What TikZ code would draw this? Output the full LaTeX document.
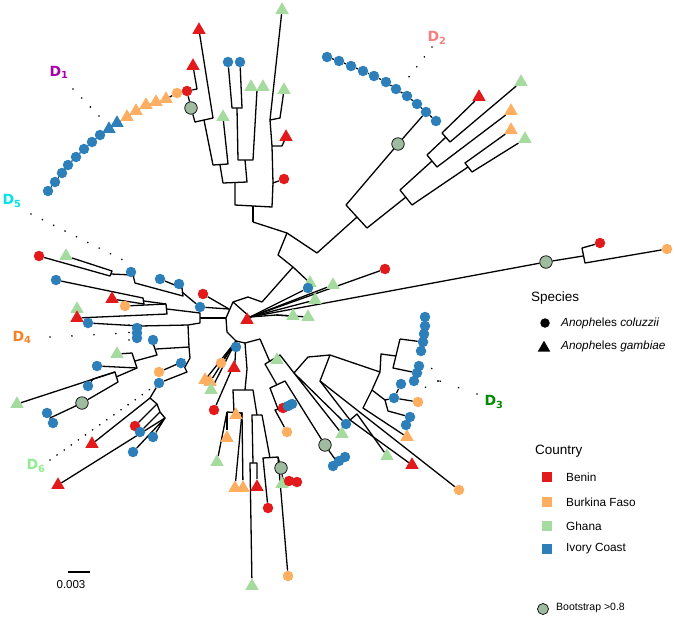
\documentclass[tikz,border=0pt]{standalone}
\usepackage{fontspec}
\setmainfont{Liberation Sans}
\newfontfamily\labfont{DejaVu Sans}
\usetikzlibrary{shapes.geometric,backgrounds}

\definecolor{benin}{RGB}{227,26,28}
\definecolor{burkina}{RGB}{253,174,97}
\definecolor{ghana}{RGB}{166,219,160}
\definecolor{ivory}{RGB}{44,127,184}
\definecolor{bootfill}{RGB}{160,188,160}
\definecolor{dA}{RGB}{170,0,170}
\definecolor{dB}{RGB}{244,128,128}
\definecolor{dC}{RGB}{0,140,0}
\definecolor{dD}{RGB}{247,129,35}
\definecolor{dE}{RGB}{0,228,232}
\definecolor{dF}{RGB}{144,238,144}

\tikzset{
  branch/.style={line width=1.3pt, line join=round},
  tipdot/.style={circle, inner sep=0pt, minimum size=10.5pt},
  tiptri/.style={regular polygon, regular polygon sides=3, inner sep=0pt, minimum size=15.5pt},
  bedot/.style={tipdot, fill=benin},
  bfdot/.style={tipdot, fill=burkina},
  ivdot/.style={tipdot, fill=ivory},
  betri/.style={tiptri, fill=benin},
  bftri/.style={tiptri, fill=burkina},
  ghtri/.style={tiptri, fill=ghana},
  ivtri/.style={tiptri, fill=ivory},
  boot/.style={circle, draw=black, line width=.7pt, fill=bootfill, inner sep=0pt, minimum size=12.5pt},
  leader/.style={line width=1.8pt, line cap=round, dash pattern=on 0pt off #1},
  dlab/.style={font=\labfont\bfseries\fontsize{14}{16}\selectfont, inner sep=0pt},
  legtext/.style={anchor=west, inner sep=0pt, font=\fontsize{11.8}{13}\selectfont},
  leghead/.style={anchor=west, inner sep=0pt, font=\fontsize{13.5}{15}\selectfont},
  legbox/.style={inner sep=0pt, minimum size=9.5pt},
}

\begin{document}
\begin{tikzpicture}[x=1pt,y=-1pt]
\useasboundingbox (0,0) rectangle (675,619);

% top clade
\node[betri] (ta1) at (199,30) {};
\node[bedot] (ta2) at (187,91) {};
\node[betri] (ta3) at (193,66) {};
\node[boot] (bs1) at (191,108) {};
\node[ghtri] (ta4) at (223,117) {};
\node[ivdot] (ta5) at (228,62) {};
\node[ivdot] (ta6) at (240,62) {};
\node[ghtri] (ta7) at (251,87) {};
\node[ghtri] (ta8) at (263,87) {};
\node[ghtri] (tb1) at (282,10) {};
\node[ghtri] (tb2) at (284,90) {};
\node[betri] (tb3) at (286,137) {};
\node[bedot] (tb4) at (284,179) {};

% D1 chain
\node[bfdot] (c1) at (177,93) {};
\node[bftri] (c2) at (166,99) {};
\node[bftri] (c3) at (156,102) {};
\node[bftri] (c4) at (146,105) {};
\node[bftri] (c5) at (136,111) {};
\node[bftri] (c6) at (127,117) {};
\node[ivtri] (c7) at (117,123) {};
\node[ivtri] (c8) at (109,129) {};
\node[ivdot] (c9) at (100,135) {};
\node[ivdot] (c10) at (92,142) {};
\node[ivdot] (c11) at (84,149) {};
\node[ivdot] (c12) at (76,157) {};
\node[ivdot] (c13) at (68,165) {};
\node[ivdot] (c14) at (62,173) {};
\node[ivdot] (c15) at (55,182) {};
\node[ivdot] (c16) at (48,191) {};

% D2 chain and its sister
\node[ivdot] (e1) at (327,57) {};
\node[ivdot] (e2) at (339,61) {};
\node[ivdot] (e3) at (351,66) {};
\node[ivdot] (e4) at (363,71) {};
\node[ivdot] (e5) at (374,76) {};
\node[ivdot] (e6) at (386,82) {};
\node[ivdot] (e7) at (396,89) {};
\node[ivdot] (e8) at (407,96) {};
\node[ivdot] (e9) at (417,104) {};
\node[ivdot] (e10) at (426,112) {};
\node[ivdot] (e11) at (436,121) {};
\node[boot] (bs2) at (398,144) {};
\node[betri] (f1) at (479,97) {};
\node[ghtri] (f2) at (521,82) {};
\node[bftri] (f3) at (511,111) {};
\node[bftri] (f4) at (511,130) {};
\node[ghtri] (f5) at (525,139) {};

% long branch
\node[boot] (bs3) at (546,262) {};
\node[bedot] (g1) at (600,243) {};
\node[bfdot] (g2) at (667,249) {};

% fan at the centre
\node[betri] (h0) at (247,320) {};
\node[bedot] (h1) at (385,269) {};
\node[ghtri] (h2) at (333,285) {};
\node[ghtri] (h3) at (310,283) {};
\node[ivdot] (h4) at (308,288) {};
\node[ghtri] (h5) at (315,300) {};
\node[ghtri] (h6) at (293,316) {};
\node[ghtri] (h7) at (308,317) {};

% left side
\node[bedot] (u1) at (39,256) {};
\node[ghtri] (u2) at (66,256) {};
\node[ivdot] (u3) at (131,272) {};
\node[ivdot] (u4) at (160,279) {};
\node[ivdot] (u5) at (179,284) {};
\node[bedot] (u6) at (203,294) {};
\node[ivdot] (u7) at (200,307) {};
\node[ivdot] (v1) at (56,280) {};
\node[betri] (v2) at (112,299) {};
\node[bfdot] (v3) at (125,306) {};
\node[ghtri] (v4) at (77,309) {};
\node[betri] (v5) at (77,318) {};
\node[ivdot] (w1) at (88,323) {};
\node[ivdot] (w2) at (137,328) {};
\node[ivdot] (w3) at (137,333) {};
\node[ivdot] (w4) at (137,338) {};
\node[ivdot] (w5) at (153,340) {};
\node[ghtri] (w6) at (117,354) {};
\node[ivdot] (w7) at (97,366) {};
\node[ghtri] (x1) at (17,404) {};
\node[ivdot] (x2) at (88,386) {};
\node[boot] (bs4) at (82,403) {};
\node[ivdot] (x3) at (47,413) {};
\node[ivdot] (x4) at (53,423) {};
\node[ivdot] (y1) at (181,363) {};
\node[bfdot] (y2) at (159,372) {};
\node[ivdot] (y3) at (159,383) {};
\node[betri] (z1) at (92,444) {};
\node[bedot] (z2) at (135,426) {};
\node[ivdot] (z3) at (140,432) {};
\node[ivdot] (z4) at (153,437) {};
\node[ivdot] (z5) at (133,452) {};
\node[betri] (z6) at (58,485) {};

% bottom
\node[ivdot] (p1) at (236,347) {};
\node[bfdot] (p2) at (221,363) {};
\node[betri] (p3) at (234,368) {};
\node[bftri] (p4) at (205,380) {};
\node[bftri] (p5) at (210,382) {};
\node[ghtri] (p6) at (211,390) {};
\node[bedot] (p7) at (214,410) {};
\node[bftri] (q1) at (236,415) {};
\node[bftri] (q2) at (227,438) {};
\node[ghtri] (q3) at (217,462) {};
\node[bftri] (q4) at (235,488) {};
\node[bftri] (q5) at (243,488) {};
\node[ghtri] (q6) at (252,586) {};
\node[betri] (q7) at (257,487) {};
\node[bedot] (q8) at (268,508) {};
\node[bfdot] (q9) at (288,576) {};
\node[boot] (bs5) at (281,468) {};
\node[ghtri] (q10) at (282,484) {};
\node[bedot] (q11) at (289,481) {};
\node[bedot] (q12) at (297,482) {};
\node[ghtri] (s1) at (277,360) {};
\node[bedot] (s2) at (283,408) {};
\node[ivdot] (s3) at (288,406) {};
\node[ivdot] (s4) at (292,404) {};
\node[bfdot] (s5) at (287,432) {};
\node[boot] (bs6) at (325,445) {};
\node[ivdot] (s6) at (333,466) {};
\node[ivdot] (s7) at (339,461) {};
\node[ivdot] (s8) at (345,457) {};
\node[ghtri] (s9) at (342,434) {};
\node[ivdot] (s10) at (346,424) {};
\node[bfdot] (k1) at (459,490) {};
\node[betri] (k2) at (412,465) {};
\node[ghtri] (k3) at (387,456) {};
\node[bftri] (k4) at (407,437) {};
\node[ivdot] (k5) at (410,417) {};
\node[ivdot] (k6) at (406,425) {};
\node[ivdot] (k7) at (394,398) {};
\node[ivdot] (k8) at (401,384) {};
\node[bfdot] (k9) at (418,402) {};
\node[ivdot] (k10) at (419,366) {};
\node[ivdot] (k11) at (417,373) {};
\node[ivdot] (k12) at (414,381) {};
\node[ivdot] (k13) at (425,317) {};
\node[ivdot] (k14) at (425,326) {};
\node[ivdot] (k15) at (424,334) {};
\node[ivdot] (k16) at (423,342) {};
\node[ivdot] (k17) at (421,351) {};

% inner points
\coordinate (o1) at (233,302);
\coordinate (o2) at (226,318);
\coordinate (o3) at (227,332);
\coordinate (o4) at (236,341);
\coordinate (o5) at (245,343);
\coordinate (o6) at (260,339);
\coordinate (o7) at (248,297);
\coordinate (o8) at (262,302);
\coordinate (oq) at (229,309);
\coordinate (hub) at (250,317);
\coordinate (fb) at (276,315);
\coordinate (m1) at (293,267);
\coordinate (m2) at (278,255);
\coordinate (m3) at (287,233);
\coordinate (m4) at (253,222);
\coordinate (m5) at (317,253);
\coordinate (t1) at (253,206);
\coordinate (t1a) at (235,205);
\coordinate (t1b) at (272,207);
\coordinate (ta) at (235,183);
\coordinate (taa) at (223,183);
\coordinate (tab) at (247,182);
\coordinate (te) at (220,165);
\coordinate (tea) at (213,165);
\coordinate (teb) at (228,164);
\coordinate (tb) at (245,160);
\coordinate (tba) at (238,160);
\coordinate (tbb) at (253,160);
\coordinate (tc) at (237,108);
\coordinate (tca) at (232,108);
\coordinate (tcb) at (242,108);
\coordinate (td) at (257,90);
\coordinate (tf) at (204,120);
\coordinate (tfa) at (195,122);
\coordinate (tfb) at (213,118);
\coordinate (th) at (197,89);
\coordinate (tr) at (273,183);
\coordinate (tra) at (272,146);
\coordinate (trb) at (282,146);
\coordinate (trc) at (270,120);
\coordinate (trd) at (280,118);
\coordinate (dm) at (357,217);
\coordinate (da) at (346,205);
\coordinate (db) at (367,228);
\coordinate (em) at (406,197);
\coordinate (ea) at (400,190);
\coordinate (eb) at (412,205);
\coordinate (fm) at (432,161);
\coordinate (fa) at (427,155);
\coordinate (fbb) at (437,167);
\coordinate (fc) at (446,137);
\coordinate (fca) at (442,133);
\coordinate (fcb) at (450,142);
\coordinate (gm) at (468,167);
\coordinate (ga) at (465,163);
\coordinate (gb) at (472,172);
\coordinate (g0) at (583,256);
\coordinate (g0a) at (582,248);
\coordinate (g0b) at (585,263);
\coordinate (ua) at (110,276);
\coordinate (ub) at (112,271);
\coordinate (um) at (111,274);
\coordinate (uc) at (133,275);
\coordinate (ud) at (135,283);
\coordinate (uf) at (183,296);
\coordinate (ug) at (182,288);
\coordinate (uh) at (182,292);
\coordinate (va) at (143,298);
\coordinate (vb) at (144,304);
\coordinate (vm) at (144,301);
\coordinate (vc) at (166,304);
\coordinate (vd) at (167,314);
\coordinate (ve) at (167,309);
\coordinate (vf) at (200,313);
\coordinate (vg) at (200,323);
\coordinate (vh) at (200,318);
\coordinate (w0) at (140,326);
\coordinate (wa) at (188,325);
\coordinate (wc) at (189,347);
\coordinate (wb) at (190,358);
\coordinate (wm) at (156,349);
\coordinate (wd) at (153,343);
\coordinate (we) at (157,355);
\coordinate (wf) at (135,361);
\coordinate (wg) at (132,353);
\coordinate (wh) at (137,368);
\coordinate (xa) at (115,372);
\coordinate (xb) at (118,382);
\coordinate (xm) at (116,377);
\coordinate (xc) at (50,418);
\coordinate (xd) at (93,379);
\coordinate (ya) at (182,362);
\coordinate (yb) at (187,372);
\coordinate (ym) at (185,367);
\coordinate (za) at (150,398);
\coordinate (zb) at (157,404);
\coordinate (zc) at (160,412);
\coordinate (zd) at (165,418);
\coordinate (pb) at (235,362);
\coordinate (qa) at (247,369);
\coordinate (qb) at (245,390);
\coordinate (qc) at (233,390);
\coordinate (qd) at (253,390);
\coordinate (qe) at (234,412);
\coordinate (qf) at (227,412);
\coordinate (qg) at (242,413);
\coordinate (qh) at (257,415);
\coordinate (qj) at (252,415);
\coordinate (qk) at (262,415);
\coordinate (qq) at (253,463);
\coordinate (ql) at (250,463);
\coordinate (qm) at (257,463);
\coordinate (qr) at (270,458);
\coordinate (qn) at (263,458);
\coordinate (qo) at (278,457);
\coordinate (qp) at (283,480);
\coordinate (ra) at (270,362);
\coordinate (rb) at (265,364);
\coordinate (rc) at (280,355);
\coordinate (rd) at (277,385);
\coordinate (re) at (270,388);
\coordinate (rf) at (285,381);
\coordinate (rg) at (278,409);
\coordinate (ri) at (275,410);
\coordinate (rj) at (282,408);
\coordinate (rh) at (337,462);
\coordinate (sa) at (294,373);
\coordinate (sb) at (308,357);
\coordinate (sc) at (330,355);
\coordinate (sd) at (380,372);
\coordinate (se) at (320,381);
\coordinate (sf) at (350,420);
\coordinate (sg) at (357,414);
\coordinate (ka) at (381,354);
\coordinate (kk) at (396,356);
\coordinate (kb) at (400,339);
\coordinate (kc) at (393,368);
\coordinate (kd) at (372,390);
\coordinate (ke) at (385,400);
\coordinate (kf) at (388,411);
\coordinate (kg) at (363,408);

\begin{pgfonlayer}{background}
\begin{scope}[branch]
\draw (o8) -- (o7) -- (o1) -- (o2) -- (o3) -- (o4) -- (o5) -- (o6);
\draw (o1) -- (hub);
\draw (hub) -- (h1);
\draw (hub) -- (h2);
\draw (hub) -- (h4);
\draw (hub) -- (h5);
\draw (hub) -- (fb) -- (h6);
\draw (fb) -- (h7);
\draw (hub) -- (bs3) -- (g0);
\draw (g1) -- (g0a) -- (g0b) -- (g2);

\draw (o8) -- (m1);
\draw (h3) -- (m1) -- (m2) -- (m3);
\draw (m4) -- (m3) -- (m5);
\draw (m4) -- (t1);
\draw (ta) -- (t1a) -- (t1b) -- (tr);
\draw (te) -- (taa) -- (tab) -- (tb);
\draw (tc) -- (tba) -- (tbb) -- (td);
\draw (ta5) -- (tca) -- (tcb) -- (ta6);
\draw (ta7) -- (td) -- (ta8);
\draw (tf) -- (tea) -- (teb) -- (ta4);
\draw (bs1) -- (tfa) -- (tfb) -- (ta1);
\draw (bs1) -- (ta2) -- (th) -- (ta3);
\draw (ta2) -- (c1) -- (c2) -- (c3) -- (c4) -- (c5) -- (c6) -- (c7) -- (c8)
  -- (c9) -- (c10) -- (c11) -- (c12) -- (c13) -- (c14) -- (c15) -- (c16);
\draw (tb4) -- (tr) -- (tra) -- (trb) -- (tb3);
\draw (tra) -- (trc) -- (trd) -- (tb2);
\draw (trc) -- (tb1);

\draw (m5) -- (dm);
\draw (bs2) -- (da) -- (db) -- (em);
\draw (bs2) -- (e10);
\draw (e1) -- (e2) -- (e3) -- (e4) -- (e5) -- (e6) -- (e7) -- (e8) -- (e9) -- (e10) -- (e11);
\draw (fm) -- (ea) -- (eb) -- (gm);
\draw (fc) -- (fa) -- (fbb) -- (f3);
\draw (f1) -- (fca) -- (fcb) -- (f2);
\draw (f4) -- (ga) -- (gb) -- (f5);

\draw (u1) -- (ua) -- (ub) -- (u2);
\draw (um) -- (uc) -- (ud) -- (uf) -- (ug) -- (u4);
\draw (u3) -- (uc);
\draw (u5) -- (ug);
\draw (uh) -- (u7) -- (oq);
\draw (u6) -- (oq);
\draw (v1) -- (va) -- (vb) -- (v2);
\draw (vm) -- (vc) -- (vd) -- (v5);
\draw (v3) -- (vc);
\draw (v4) -- (v5);
\draw (ve) -- (vf) -- (vg) -- (wa);
\draw (vh) -- (o2);
\draw (wa) -- (w0) -- (w1);
\draw (w2) -- (w0) -- (w4);
\draw (w3) -- (w0);
\draw (wa) -- (wc) -- (wb);
\draw (wc) -- (wm);
\draw (w5) -- (wd) -- (we) -- (wf);
\draw (w6) -- (wg) -- (wh) -- (w7);
\draw (xm) -- (wh);
\draw (x1) -- (xa) -- (xb) -- (bs4) -- (xc) -- (x3);
\draw (xc) -- (x4);
\draw (x2) -- (xd) -- (xa);
\draw (wb) -- (ym);
\draw (y2) -- (ya) -- (yb) -- (y3) -- (za);
\draw (y1) -- (ya);
\draw (z1) -- (za) -- (zb) -- (zc) -- (zd) -- (z6);
\draw (zb) -- (z2);
\draw (zc) -- (z3);
\draw (z4) -- (zd) -- (z5);

\draw (p4) -- (o4) -- (p5);
\draw (p6) -- (o4) -- (p2);
\draw (o4) -- (p1);
\draw (o4) -- (pb) -- (p7);
\draw (o5) -- (qa) -- (qb);
\draw (qe) -- (qc) -- (qd) -- (qh);
\draw (q3) -- (qf) -- (qg) -- (q4);
\draw (qf) -- (q2);
\draw (q1) -- (qg) -- (q5);
\draw (qq) -- (qj) -- (qk) -- (qr);
\draw (q6) -- (ql) -- (qm) -- (q7);
\draw (q8) -- (qn) -- (qo) -- (q9);
\draw (qo) -- (bs5) -- (qp) -- (q12);
\draw (q10) -- (qp) -- (q11);
\draw (o6) -- (ra);
\draw (rd) -- (rb) -- (rc) -- (s1);
\draw (rg) -- (re) -- (rf) -- (bs6) -- (rh) -- (s6);
\draw (s7) -- (rh) -- (s8);
\draw (s5) -- (ri) -- (rj) -- (s2) -- (s3) -- (s4);
\draw (rc) -- (sa) -- (sb) -- (sc) -- (sd);
\draw (s9) -- (sa) -- (s10);
\draw (sc) -- (se) -- (k1);
\draw (se) -- (sf) -- (sg) -- (k3);
\draw (sf) -- (k2);
\draw (sd) -- (ka) -- (kk);
\draw (kb) -- (kc) -- (k11);
\draw (kb) -- (k16);
\draw (k13) -- (k14) -- (k15) -- (k16) -- (k17);
\draw (k10) -- (k11) -- (k12);
\draw (sd) -- (kd) -- (kg) -- (k4);
\draw (kd) -- (ke) -- (k7) -- (k8);
\draw (k7) -- (k9);
\draw (ke) -- (kf) -- (k5) -- (k6);
\end{scope}
\end{pgfonlayer}

% dotted pointers and their names
\draw[leader=12.5pt] (73,89) -- (101,118);
\draw[leader=12.5pt] (432,47) -- (408,78);
\draw[leader=19.5pt] (477,394) -- (428,377);
\draw[leader=14pt] (438,381) -- (431,367);
\draw[leader=14pt] (438,381) -- (424,388);
\draw[leader=22pt] (50,337) -- (128,333);
\draw[leader=7.5pt] (129,325) -- (129,341);
\draw[leader=12.7pt] (31,214) -- (123,260);
\draw[leader=8.7pt] (50,460) -- (156,385);
\node[dlab, text=dA] (nD1) at (59,72) {D\textsubscript{1}};
\node[dlab, text=dB] (nD2) at (437,38) {D\textsubscript{2}};
\node[dlab, text=dC] (nD3) at (494,402) {D\textsubscript{3}};
\node[dlab, text=dD] (nD4) at (22,337) {D\textsubscript{4}};
\node[dlab, text=dE] (nD5) at (12,201) {D\textsubscript{5}};
\node[dlab, text=dF] (nD6) at (36,466) {D\textsubscript{6}};

% scale
\coordinate (sk1) at (68,572);
\coordinate (sk2) at (90,572);
\draw[line width=1.3pt] (sk1) -- (sk2);
\node[font=\fontsize{11.5}{13}\selectfont, inner sep=0pt] (sklab) at (71,585) {0.003};

% legend
\node[leghead] (lspec) at (531,298) {Species};
\node[circle, fill=black, inner sep=0pt, minimum size=9.5pt] (lcir) at (545,323) {};
\node[legtext] (lcol) at (561,323) {\textit{Anoph}eles \textit{coluzzii}};
\node[tiptri, fill=black, minimum size=14.5pt] (ltri) at (544,348) {};
\node[legtext] (lgam) at (561,346) {\textit{Anoph}eles \textit{gambiae}};
\node[leghead] (lctry) at (535,451) {Country};
\node[legbox, fill=benin] (lbe) at (547,477) {};
\node[legtext] (lbet) at (566,477) {Benin};
\node[legbox, fill=burkina] (lbf) at (547,502) {};
\node[legtext] (lbft) at (566,502) {Burkina Faso};
\node[legbox, fill=ghana] (lgh) at (547,526) {};
\node[legtext] (lght) at (566,526) {Ghana};
\node[legbox, fill=ivory] (liv) at (547,549) {};
\node[legtext] (livt) at (566,549) {Ivory Coast};
\node[boot, minimum size=11pt] (lboot) at (543,609) {};
\node[legtext, font=\fontsize{10.5}{12}\selectfont] (lboott) at (556,608) {Bootstrap >0.8};
\end{tikzpicture}
\end{document}
